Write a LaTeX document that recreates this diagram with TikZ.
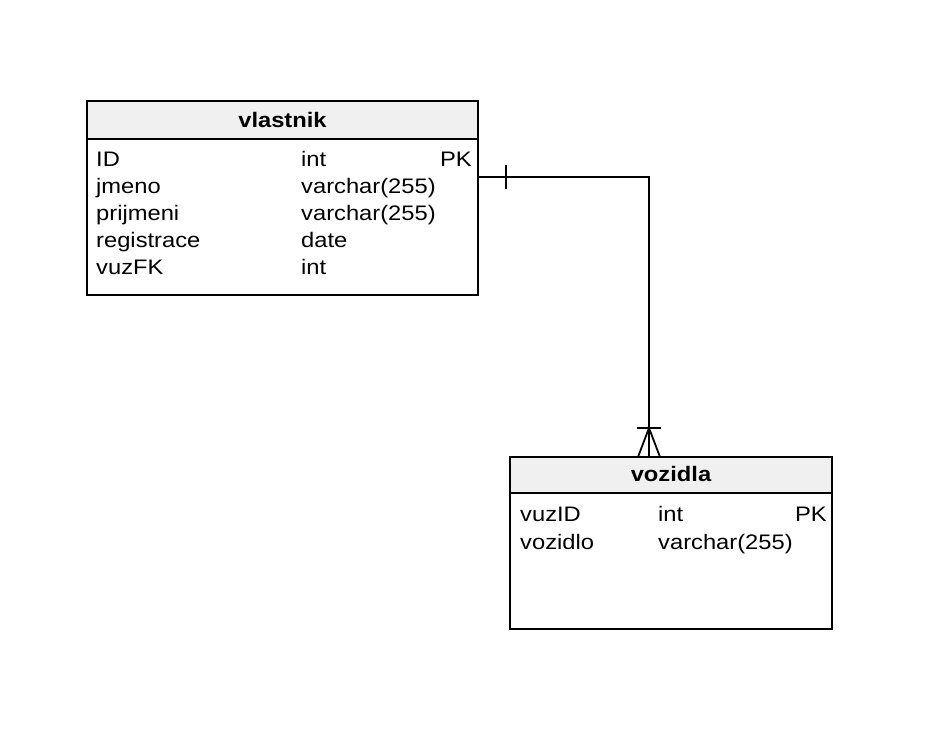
\documentclass[tikz,border=0pt]{standalone}
\usepackage{fontspec}
\setmainfont[FakeStretch=1.13]{Liberation Sans}
\begin{document}
\begin{tikzpicture}[x=1pt,y=-1pt,
  box/.style={draw=black,line width=1.6pt},
  head/.style={draw=black,line width=1.6pt,fill=black!6},
  conn/.style={draw=black,line width=1.8pt},
  txt/.style={inner sep=0pt,font=\fontsize{21}{25}\selectfont},
  ttl/.style={inner sep=0pt,anchor=base,font=\fontsize{21}{25}\selectfont\bfseries}]
\useasboundingbox (0,0) rectangle (945,753);
% vlastnik
\filldraw[head] (87,101) rectangle (478,139);
\draw[box] (87,101) rectangle (478,295);
\coordinate (vlE) at (478,177);
\node[ttl] (vlt) at (282.5,127) {vlastnik};
\foreach \n/\t/\k [count=\i from 0] in {ID/int/PK,jmeno/varchar(255)/,prijmeni/varchar(255)/,registrace/date/,vuzFK/int/}{
  \node[txt,anchor=base west] (vln\i) at (96,{166+27*\i}) {\n};
  \node[txt,anchor=base west] (vlt\i) at (301,{166+27*\i}) {\t};
  \node[txt,anchor=base east] (vlk\i) at (472,{166+27*\i}) {\k};
}
% vozidla
\filldraw[head] (510,457) rectangle (832,493);
\draw[box] (510,457) rectangle (832,629);
\coordinate (voN) at (649,457);
\node[ttl] (vot) at (671,481) {vozidla};
\node[txt,anchor=base west] (von0) at (520,521) {vuzID};
\node[txt,anchor=base west] (vot0) at (658,521) {int};
\node[txt,anchor=base east] (vok0) at (827,521) {PK};
\node[txt,anchor=base west] (von1) at (520,549) {vozidlo};
\node[txt,anchor=base west] (vot1) at (658,549) {varchar(255)};
% connector
\coordinate (bend) at (649,177);
\draw[conn] (vlE) -- (bend) -- (voN);
\draw[conn] (506,165) -- (506,189);
\draw[conn] (637,428) -- (661,428);
\draw[conn] (638,457) -- (649,428) -- (660,457);
\end{tikzpicture}
\end{document}
